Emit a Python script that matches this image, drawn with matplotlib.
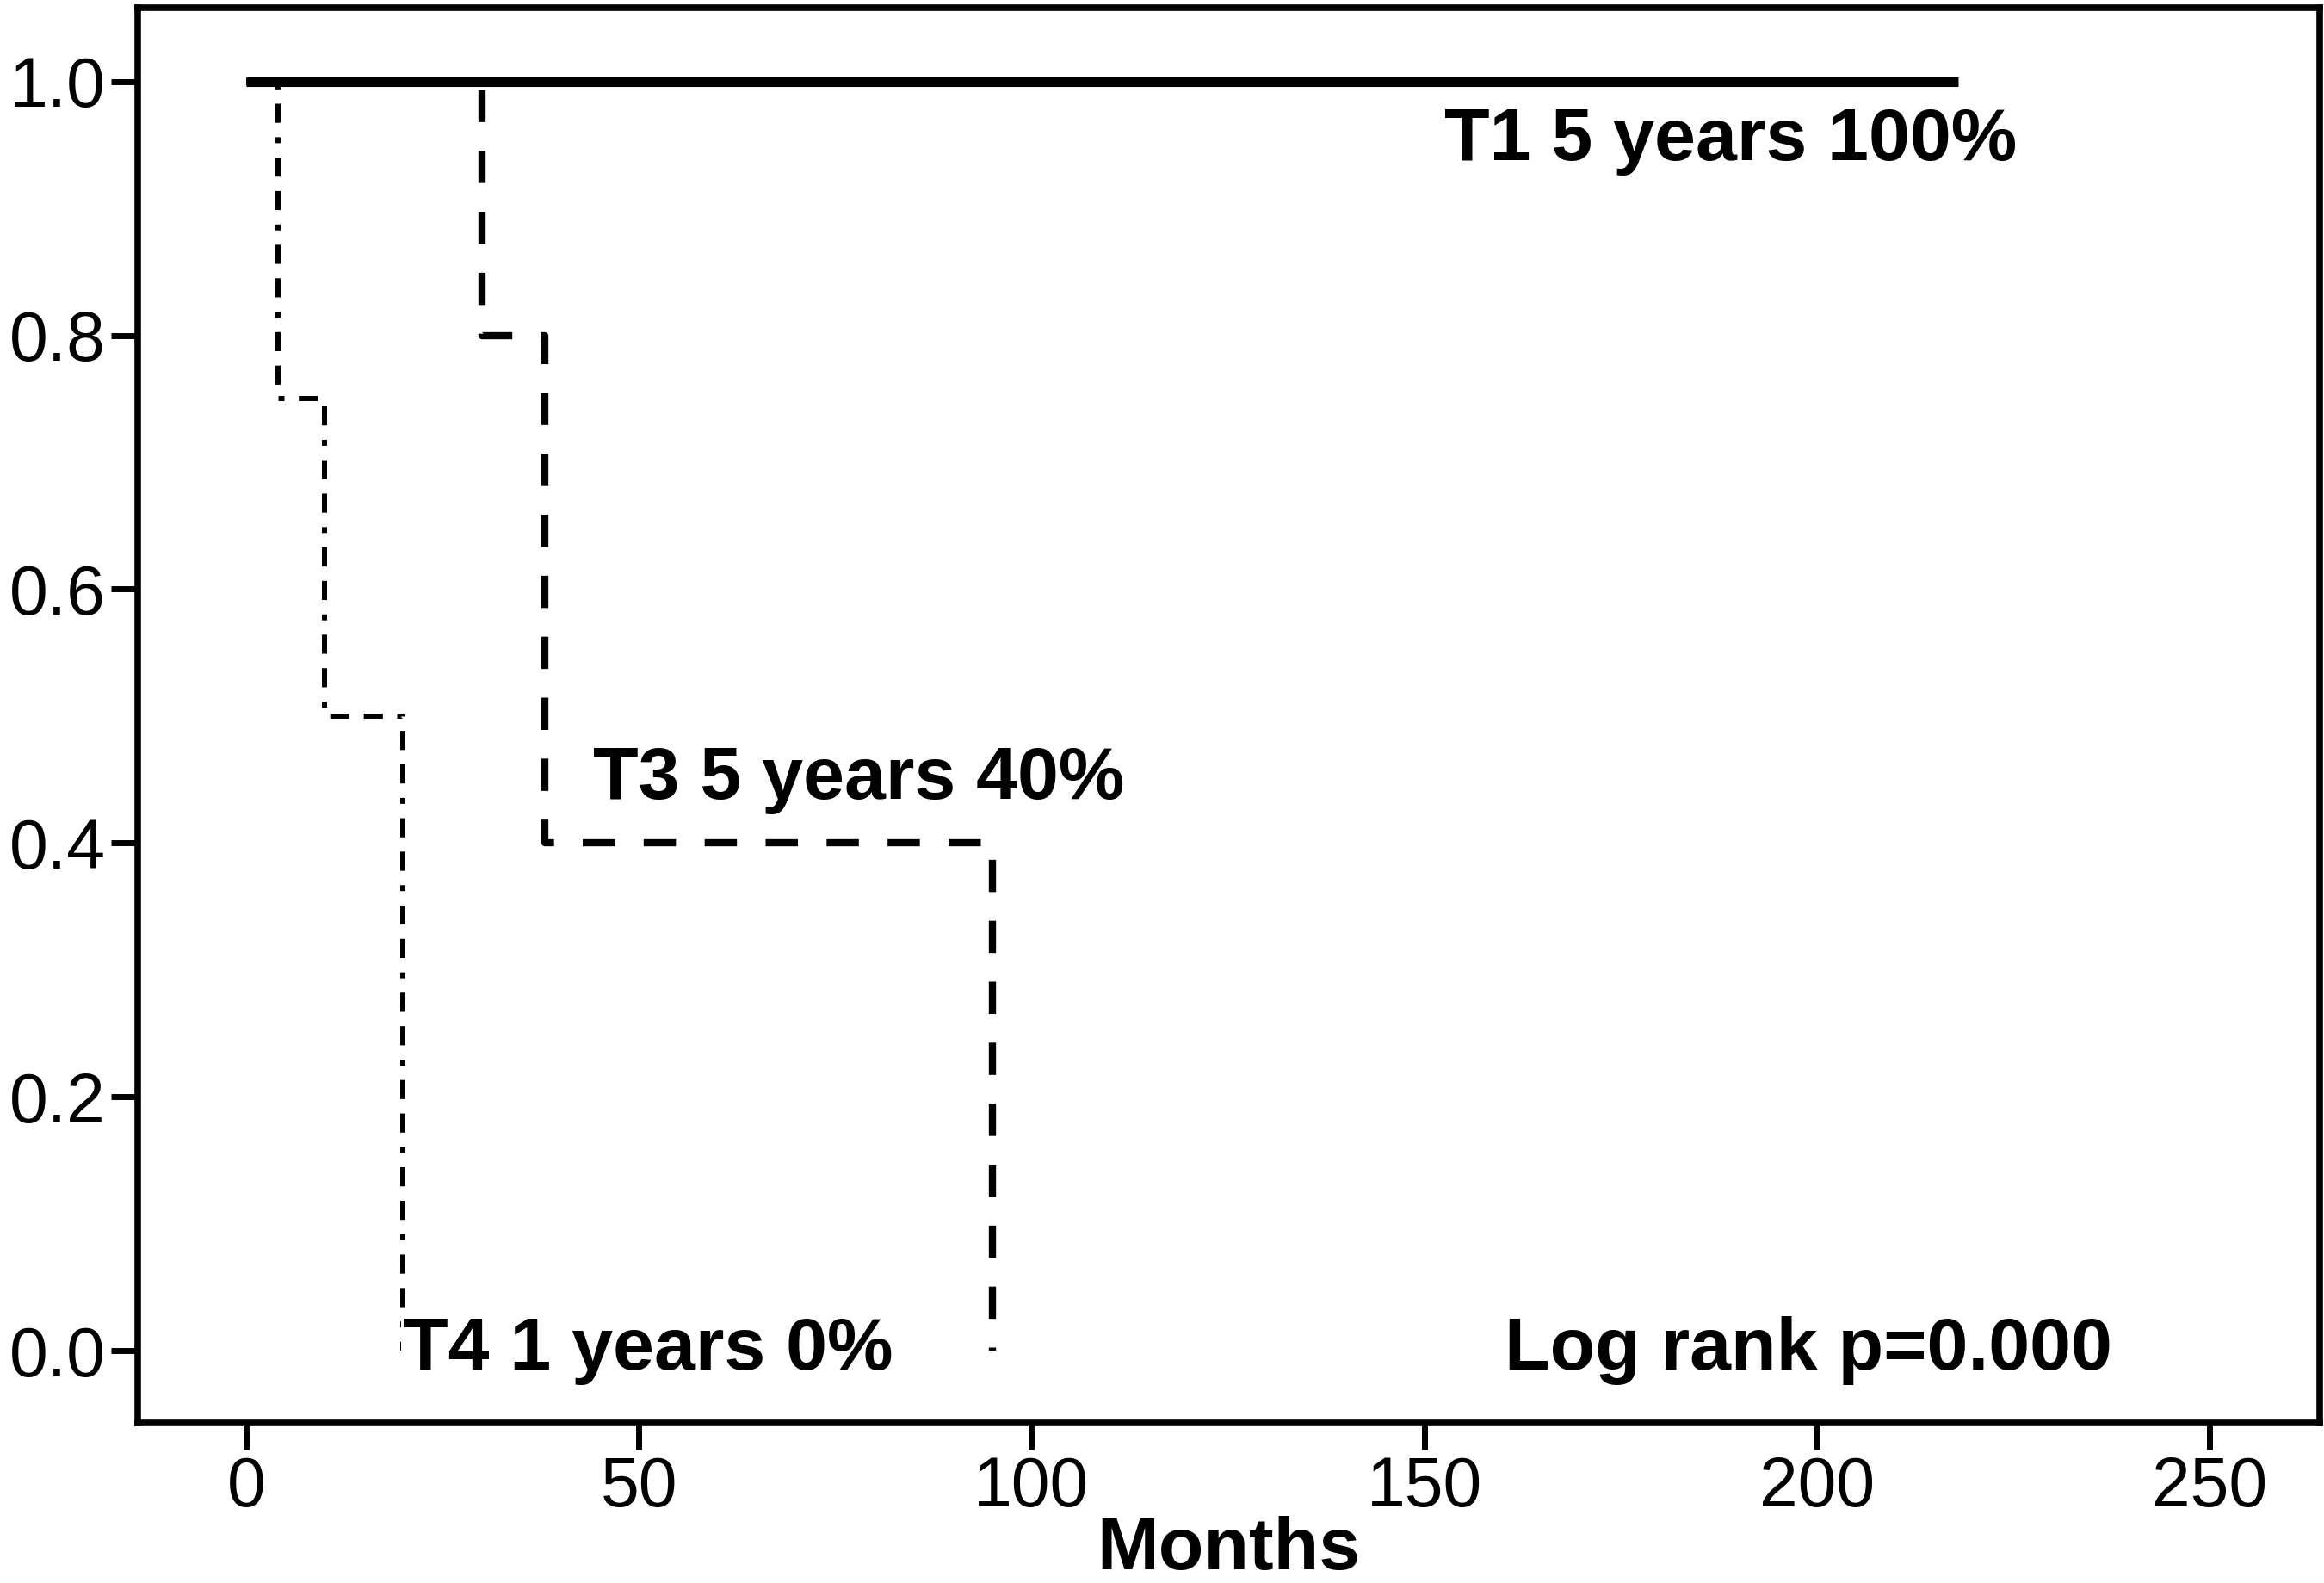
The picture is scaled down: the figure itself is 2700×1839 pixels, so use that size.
import matplotlib
matplotlib.use('Agg')
from matplotlib import pyplot as plt

# Kaplan-Meier steps (months, survival)
t1_months = [0, 218]
t1_surv = [1.0, 1.0]
t3_months = [0, 30, 38, 95]
t3_surv = [1.0, 0.8, 0.4, 0.0]
t4_months = [0, 4, 10, 20]
t4_surv = [1.0, 0.75, 0.5, 0.0]

x_ticks = [0, 50, 100, 150, 200, 250]
y_ticks = [0.0, 0.2, 0.4, 0.6, 0.8, 1.0]

plt.rcParams['font.family'] = ['Liberation Sans', 'DejaVu Sans']
plt.rcParams['lines.scale_dashes'] = False

fig = plt.figure(figsize=(27, 18.39), dpi=100)
ax = fig.add_axes([0.0593, 0.1011, 0.9387, 0.8939])

ax.step(t4_months, t4_surv, where='post', color='black', lw=4.3,
        linestyle=(0, (5, 12, 16, 12, 16, 12)), zorder=2)
ax.step(t3_months, t3_surv, where='post', color='black', lw=6,
        linestyle=(0, (27, 24)), zorder=2)
ax.plot(t1_months, t1_surv, color='black', lw=8, solid_capstyle='butt', zorder=3)

tkw = dict(fontsize=62, fontweight='bold', va='center', ha='left', zorder=4)
ax.text(152.6, 0.953, 'T1 5 years 100%', **tkw)
ax.text(44.2, 0.45, 'T3 5 years 40%', **tkw)
ax.text(20.0, 0.0, 'T4 1 years 0%', bbox=dict(facecolor='white', edgecolor='none', pad=2), **tkw)
ax.text(160.2, 0.0, 'Log rank p=0.000', **tkw)

ax.set_xlim(-13.8, 264)
ax.set_ylim(-0.057, 1.058)
ax.set_xticks(x_ticks)
ax.set_yticks(y_ticks)
ax.set_xticklabels([str(v) for v in x_ticks])
ax.set_yticklabels(['%.1f' % v for v in y_ticks])
ax.tick_params(direction='out', length=22, width=5, labelsize=58, pad=5)
for s in ax.spines.values():
    s.set_linewidth(5.5)
ax.set_xlabel('Months', fontsize=62, fontweight='bold', labelpad=-4)

fig.savefig('out.png', dpi=100, facecolor='white')
